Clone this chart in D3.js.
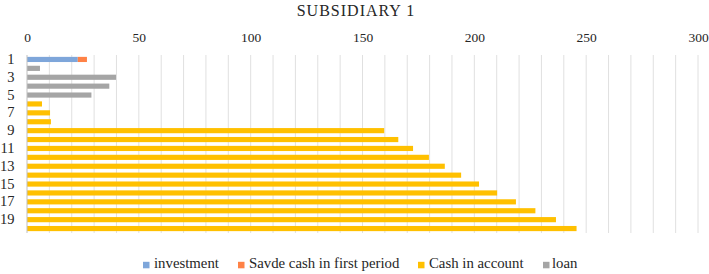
<!DOCTYPE html>
<html>
<head>
<meta charset="utf-8">
<script src="https://cdn.jsdelivr.net/npm/d3@7"></script>
<style>
  body { margin: 0; background: #fff; }
</style>
</head>
<body>
<div id="chart"></div>
<script>
const periods = d3.range(1, 21)
const investment = [22.7, 0, 0, 0, 0, 0, 0, 0, 0, 0, 0, 0, 0, 0, 0, 0, 0, 0, 0, 0]
const savedCash = [4.1, 0, 0, 0, 0, 0, 0, 0, 0, 0, 0, 0, 0, 0, 0, 0, 0, 0, 0, 0]
const cashInAccount = [0, 0, 0, 0, 0, 6.7, 10.3, 10.7, 159.7, 166, 172.6, 179.7, 186.8, 194.1, 202.1, 210.2, 218.6, 227.3, 236.5, 245.7]
const loan = [0, 5.8, 39.8, 36.8, 28.8, 0, 0, 0, 0, 0, 0, 0, 0, 0, 0, 0, 0, 0, 0, 0]
const xTicks = [0, 50, 100, 150, 200, 250, 300]

const keys = ['investment', 'saved', 'cash', 'loan']
const labels = {
  investment: 'investment',
  saved: 'Savde cash in first period',
  cash: 'Cash in account',
  loan: 'loan'
}
const colors = {
  investment: '#7EA6DA',
  saved: '#FF8246',
  cash: '#FFC000',
  loan: '#A5A5A5'
}

const data = periods.map((p, i) => ({
  period: p,
  investment: investment[i],
  saved: savedCash[i],
  cash: cashInAccount[i],
  loan: loan[i]
}))

const width = 709
const height = 274
const margin = { top: 55, right: 11, bottom: 41, left: 27 }
const serif = 'Liberation Serif, Times New Roman, serif'

const svg = d3.select('#chart')
  .append('svg')
  .attr('width', width)
  .attr('height', height)
  .attr('font-family', serif)

const x = d3.scaleLinear()
  .domain([0, 300])
  .range([margin.left, width - margin.right])

const y = d3.scaleBand()
  .domain(periods)
  .range([margin.top, height - margin.bottom])
  .paddingInner(0.42)
  .paddingOuter(0.21)

// Title
svg.append('text')
  .attr('x', 356)
  .attr('y', 15.5)
  .attr('text-anchor', 'middle')
  .attr('font-size', 16)
  .attr('letter-spacing', 1)
  .text('SUBSIDIARY 1')

// Gridlines every 10
svg.append('g')
  .selectAll('line')
  .data(d3.range(10, 301, 10))
  .join('line')
  .attr('x1', d => x(d))
  .attr('x2', d => x(d))
  .attr('y1', margin.top)
  .attr('y2', height - margin.bottom)
  .attr('stroke', '#E0E0E0')
  .attr('stroke-width', 1)

// Top axis
const xAxis = svg.append('g')
  .attr('transform', `translate(0,${margin.top - 17.2})`)
  .call(d3.axisTop(x).tickValues(xTicks).tickSize(0).tickPadding(0))
xAxis.attr('font-family', serif).attr('font-size', 13.5)
xAxis.select('.domain').remove()
xAxis.selectAll('text')
  .attr('dy', '0.32em')

// Stacked bars
const stacked = d3.stack().keys(keys)(data)

svg.append('g')
  .selectAll('g')
  .data(stacked)
  .join('g')
  .attr('fill', d => colors[d.key])
  .selectAll('rect')
  .data(d => d.filter(s => s[1] - s[0] > 0))
  .join('rect')
  .attr('x', d => x(d[0]))
  .attr('y', d => y(d.data.period))
  .attr('width', d => x(d[1]) - x(d[0]))
  .attr('height', y.bandwidth())

// Left axis line
svg.append('line')
  .attr('x1', x(0))
  .attr('x2', x(0))
  .attr('y1', margin.top)
  .attr('y2', height - margin.bottom)
  .attr('stroke', '#BFBFBF')
  .attr('stroke-width', 1)

// Category labels (odd ones)
const yAxis = svg.append('g')
  .attr('transform', `translate(${margin.left - 12.5},0)`)
  .call(d3.axisLeft(d3.scaleBand().domain(periods).range([margin.top, height - margin.bottom]))
    .tickValues(periods.filter(p => p % 2 === 1))
    .tickSize(0).tickPadding(0))
yAxis.attr('font-family', serif).attr('font-size', 14.5)
yAxis.select('.domain').remove()

// Legend
const legendItems = [
  { key: 'investment', x: 143, tx: 154 },
  { key: 'saved', x: 238, tx: 249 },
  { key: 'cash', x: 418, tx: 429 },
  { key: 'loan', x: 543, tx: 552 }
]
const legend = svg.append('g')
  .attr('transform', `translate(0,${height - 5.7})`)
  .attr('font-size', 14.8)

legendItems.forEach(item => {
  legend.append('rect')
    .attr('x', item.x)
    .attr('y', -6.5)
    .attr('width', 6.5)
    .attr('height', 6.5)
    .attr('fill', colors[item.key])
  legend.append('text')
    .attr('x', item.tx)
    .attr('y', 0)
    .text(labels[item.key])
})

svg.selectAll('text').attr('font-family', serif).attr('fill', '#262626')
</script>
</body>
</html>
